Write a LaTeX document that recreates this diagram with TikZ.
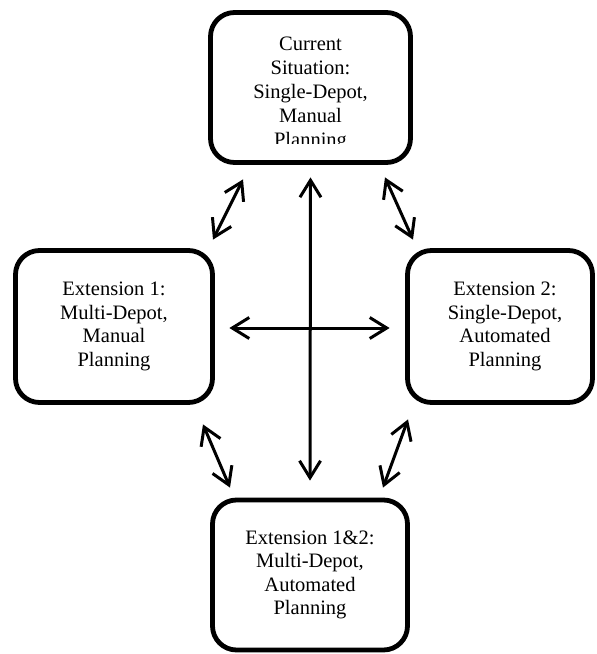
\documentclass[tikz,border=0pt]{standalone}
\usepackage{fontspec}
\setmainfont{Liberation Serif}
\usetikzlibrary{arrows.meta,calc}
\begin{document}
\begin{tikzpicture}[x=1pt,y=-1pt,
  stage/.style={draw, line width=4.8pt, rounded corners=24pt, inner sep=0pt,
    align=center, font=\fontsize{20.5}{23.5}\selectfont},
  label/.style={inner sep=0pt, align=center, font=\fontsize{20.5}{24}\selectfont},
  link/.style={line width=3pt,
    {Straight Barb[length=17pt,width=21pt]}-{Straight Barb[length=17pt,width=21pt]}}]
\useasboundingbox (0,0) rectangle (597,654);

% the four planning stages
\node[stage, minimum width=200pt, minimum height=150pt] (top) at (310.5,87.5) {};
\begin{scope}
  % the text box of the first stage is too short for its last line
  \clip (208,10) rectangle (413,143);
  \node[label] (toptext) at (310.5,94) {Current\\Situation:\\Single-Depot,\\Manual\\Planning};
\end{scope}
\node[stage, minimum width=197pt, minimum height=152pt] (left) at (114,326.5)
  {Extension 1:\\Multi-Depot,\\Manual\\Planning};
\node[stage, minimum width=185pt, minimum height=152pt] (right) at (500,326.5)
  {\hspace*{10pt}Extension 2:\\\hspace*{10pt}Single-Depot,\\\hspace*{10pt}Automated\\\hspace*{10pt}Planning};
\node[stage, minimum width=195pt, minimum height=150pt] (bottom) at (310,575)
  {Extension 1\&2:\\Multi-Depot,\\Automated\\Planning};

% two-way transitions
\draw[link] ($(top.south)+(-67.5,14.5)$) -- ($(left.north)+(99,-8.5)$);
\draw[link] ($(top.south)+(74.5,12.5)$) -- ($(right.north)+(-87,-8.5)$);
\draw[link] ($(left.south)+(89,19.5)$) -- ($(bottom.north)+(-80,-10)$);
\draw[link] ($(right.south)+(-92,14.5)$) -- ($(bottom.north)+(73,-10)$);
\draw[link] ($(top.south)+(0,12.5)$) -- ($(bottom.north)+(0,-17)$);
\draw[link] ($(left.east)+(14.5,1.5)$) -- ($(right.west)+(-15.5,1.5)$);
\end{tikzpicture}
\end{document}
